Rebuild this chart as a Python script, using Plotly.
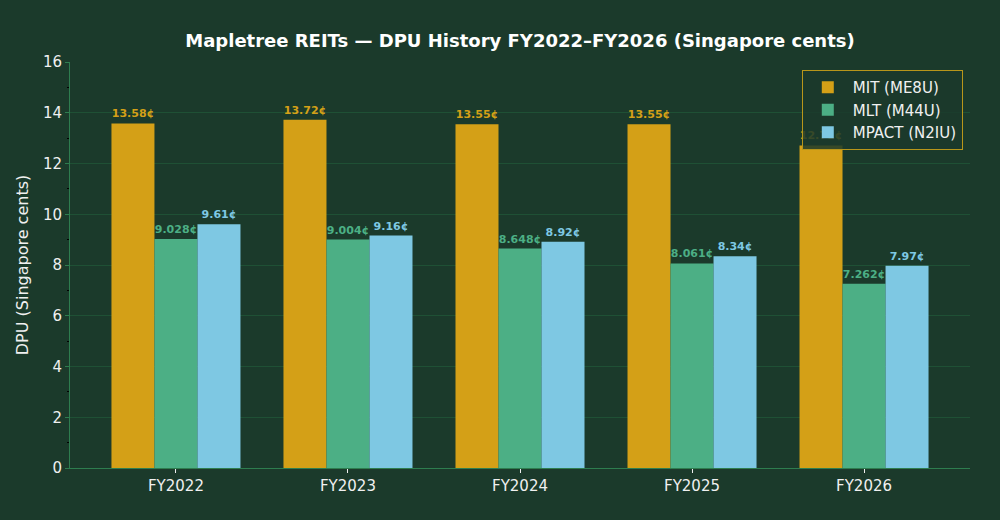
import plotly.graph_objects as go

# DPU per fiscal year, Singapore cents
years = ["FY2022", "FY2023", "FY2024", "FY2025", "FY2026"]
mit_dpu = [13.58, 13.72, 13.55, 13.55, 12.71]
mlt_dpu = [9.028, 9.004, 8.648, 8.061, 7.262]
mpact_dpu = [9.61, 9.16, 8.92, 8.34, 7.97]

series = [
    ("MIT (ME8U)", mit_dpu, "#D4A017"),
    ("MLT (M44U)", mlt_dpu, "#4CAF85"),
    ("MPACT (N2IU)", mpact_dpu, "#7EC8E3"),
]

BG = "#1b3a2b"
GRID = "#1f5035"
SPINE = "#2e7d4f"

fig = go.Figure()
for name, vals, color in series:
    fig.add_trace(go.Bar(
        x=years,
        y=vals,
        name=name,
        marker=dict(color=color, line=dict(width=0)),
        text=[f"{v:g}¢" for v in vals],
        textposition="outside",
        cliponaxis=False,
        textfont=dict(family="DejaVu Sans", size=11, color=color, weight="bold"),
    ))

fig.update_layout(
    width=1000,
    height=520,
    barmode="group",
    bargap=0.25,
    bargroupgap=0,
    paper_bgcolor=BG,
    plot_bgcolor=BG,
    font=dict(family="DejaVu Sans", color="#f0f0f0"),
    margin=dict(l=70, r=30, t=62, b=52),
    title=dict(
        text="<b>Mapletree REITs — DPU History FY2022–FY2026 (Singapore cents)</b>",
        x=0.52, xanchor="center", y=0.922, yanchor="middle",
        font=dict(size=18, color="white"),
    ),
    legend=dict(
        x=0.992, y=0.98, xanchor="right", yanchor="top",
        bgcolor="rgba(27,58,43,0.85)",
        bordercolor="#b8961a", borderwidth=1,
        font=dict(size=15, color="#f0f0f0"),
        itemwidth=40,
        tracegroupgap=2,
    ),
)

fig.update_xaxes(
    showgrid=False,
    showline=True, linecolor=SPINE, linewidth=1,
    ticks="outside", ticklen=4, tickcolor="#f0f0f0",
    tickfont=dict(size=15),
    range=[-0.616, 4.616],
)
fig.update_yaxes(
    range=[0, 16],
    dtick=2,
    showgrid=True, gridcolor=GRID, gridwidth=1,
    showline=True, linecolor=SPINE, linewidth=1,
    ticks="outside", ticklen=4, tickcolor=SPINE,
    tickfont=dict(size=15),
    zeroline=False,
    minor=dict(dtick=1, ticks="outside", ticklen=2, tickcolor="black", showgrid=False),
    title=dict(text="DPU (Singapore cents)", font=dict(size=16), standoff=10),
)

fig.write_html(
    "out.html",
    config={"displayModeBar": False},
    post_script="document.body.style.margin='0';",
)
